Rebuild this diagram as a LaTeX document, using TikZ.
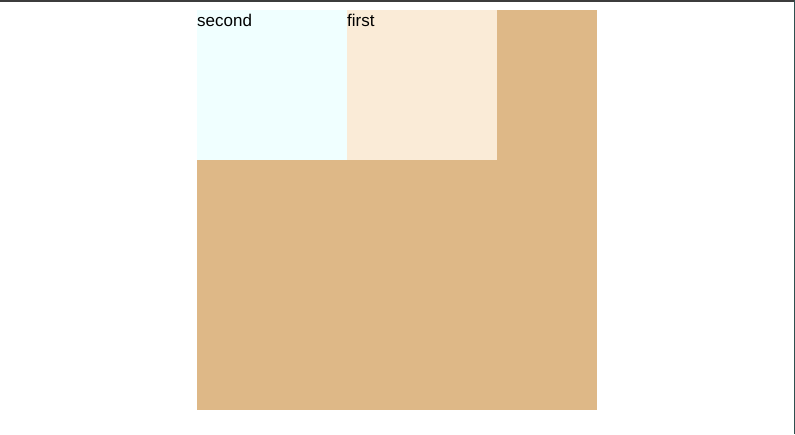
\documentclass[tikz,border=0pt]{standalone}
\usepackage{fontspec}
\setmainfont{Liberation Sans}
\definecolor{burly}{HTML}{DEB887}
\definecolor{azurec}{HTML}{F0FFFF}
\definecolor{antiq}{HTML}{FAEBD7}
\definecolor{topbar}{HTML}{3C3C3C}
\definecolor{rightbar}{HTML}{2F4F4F}
\tikzset{boxlabel/.style={anchor=base west, inner sep=0pt, font=\fontsize{17}{19}\selectfont, text=black}}
\begin{document}
\begin{tikzpicture}[x=1pt,y=-1pt]
\useasboundingbox (0,0) rectangle (795,434);
\fill[white] (0,0) rectangle (795,434);
\fill[topbar] (0,0) rectangle (795,1.7);
\fill[rightbar] (794,0) rectangle (795,434);
\fill[burly] (197,10) rectangle (597,410);
\fill[azurec] (197,10) rectangle (347,160);
\fill[antiq] (347,10) rectangle (497,160);
\node[boxlabel] (second) at (197,26) {second};
\node[boxlabel] (first) at (347,26) {first};
\end{tikzpicture}
\end{document}
